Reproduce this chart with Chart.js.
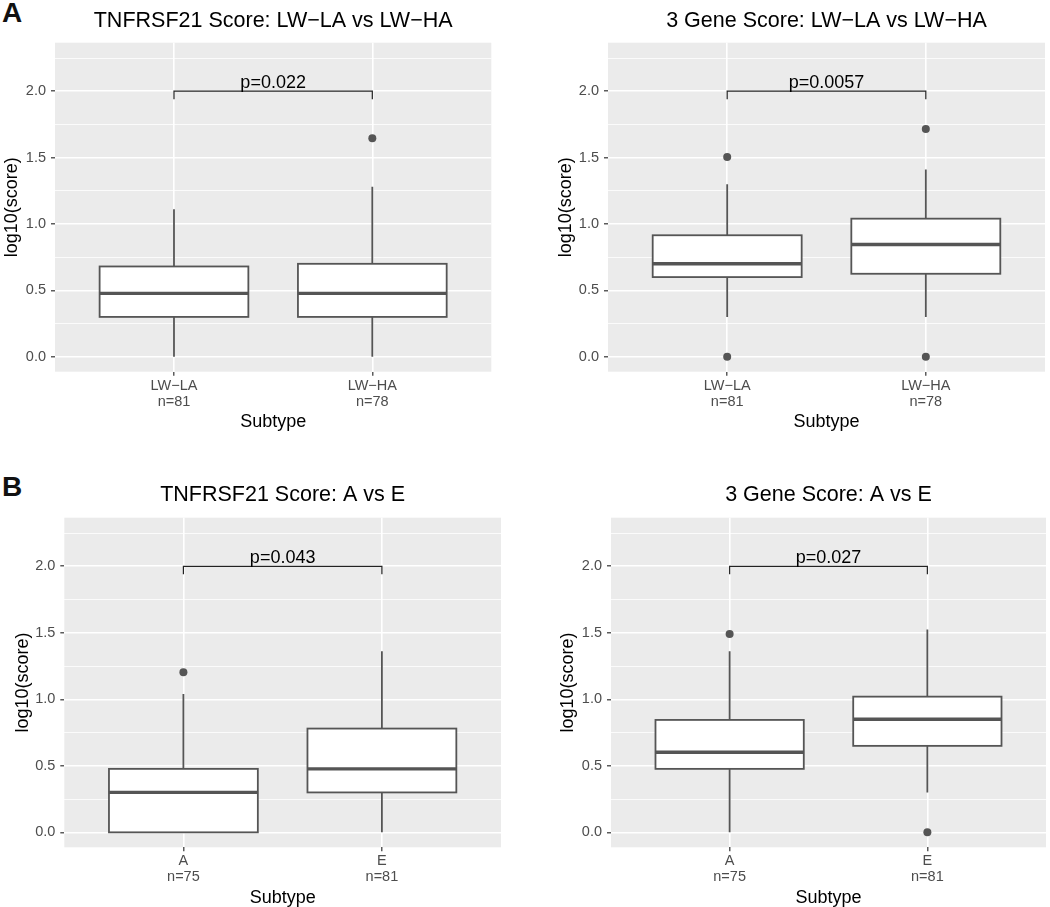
<!DOCTYPE html>
<html>
<head>
<meta charset="utf-8">
<script src="https://cdn.jsdelivr.net/npm/chart.js@4.4.1/dist/chart.umd.min.js"></script>
<style>
  html, body { margin: 0; padding: 0; background: #ffffff; width: 1050px; height: 907px; overflow: hidden; }
  canvas { position: absolute; }
  .tag { position: absolute; font-family: "Liberation Sans", Arial, sans-serif; font-weight: bold; font-size: 28px; line-height: 28px; color: #111; }
</style>
</head>
<body>
<div class="tag" style="left:2px; top:-1px;">A</div>
<div class="tag" style="left:2px; top:473px;">B</div>
<canvas id="c1" width="525" height="440" style="left:0px; top:0px;"></canvas>
<canvas id="c2" width="525" height="440" style="left:525px; top:0px;"></canvas>
<canvas id="c3" width="525" height="437" style="left:0px; top:470px;"></canvas>
<canvas id="c4" width="525" height="437" style="left:525px; top:470px;"></canvas>
<script>
// ---------------- DATA ----------------
// Categories and group sizes
const lwCategories = ['LW\u2212LA', 'LW\u2212HA'];
const lwCounts     = ['n=81', 'n=78'];
const aeCategories = ['A', 'E'];
const aeCounts     = ['n=75', 'n=81'];

// Box statistics per group: [lower whisker, Q1, median, Q3, upper whisker]  (log10(score))
const tnfLwBoxes  = [[0.00, 0.30, 0.477, 0.68, 1.11], [0.00, 0.30, 0.477, 0.70, 1.28]];
const geneLwBoxes = [[0.30, 0.60, 0.70, 0.915, 1.30], [0.30, 0.625, 0.845, 1.04, 1.41]];
const tnfAeBoxes  = [[0.00, 0.00, 0.30, 0.477, 1.04], [0.00, 0.30, 0.477, 0.78, 1.362]];
const geneAeBoxes = [[0.00, 0.477, 0.602, 0.845, 1.362], [0.30, 0.65, 0.85, 1.02, 1.525]];

// Outliers per group
const tnfLwOutliers  = [[], [1.645]];
const geneLwOutliers = [[1.505, 0.00], [1.715, 0.00]];
const tnfAeOutliers  = [[1.204], []];
const geneAeOutliers = [[1.491], [0.00]];

// Significance annotations
const pLabels = ['p=0.022', 'p=0.0057', 'p=0.043', 'p=0.027'];
const bracketLevel = [2.0, 2.0, 2.0, 2.0];
const bracketTip   = [1.94, 1.94, 1.94, 1.94];

// Titles
const panelTitles = [
  'TNFRSF21 Score: LW\u2212LA vs LW\u2212HA',
  '3 Gene Score: LW\u2212LA vs LW\u2212HA',
  'TNFRSF21 Score: A vs E',
  '3 Gene Score: A vs E'
];
const yTitle = 'log10(score)';
const xTitle = 'Subtype';

// ---------------- STYLE / LAYOUT ----------------
const FONT = '"Liberation Sans", Arial, sans-serif';
Chart.defaults.font.family = FONT;
const BOX_COLOR = '#555555';
const PANEL_BG = '#EBEBEB';
const BOX_HALF = 0.375;
const Y_MIN = -0.1126, Y_MAX = 2.3653;

const layouts = [
  {id: 'c1', yW: 55,   padR: 33.7, tTop: 8,    tBot: 8.9, yTP: 3.5,  xH: 68.3, xTP: 9.3},
  {id: 'c2', yW: 83,   padR: 5,    tTop: 8,    tBot: 8.9, yTP: 31.8, xH: 68.3, xTP: 9.3},
  {id: 'c3', yW: 64.3, padR: 24,   tTop: 12.6, tBot: 9.3, yTP: 14.3, xH: 59.7, xTP: 0.3},
  {id: 'c4', yW: 86,   padR: 3,    tTop: 12.6, tBot: 9.3, yTP: 34.3, xH: 59.7, xTP: 0.3}
];

const isMajor = v => Math.abs(v * 2 - Math.round(v * 2)) < 1e-6;

const bgPlugin = {
  id: 'panelBg',
  beforeDraw(chart) {
    const {ctx, chartArea: a} = chart;
    ctx.save();
    ctx.fillStyle = PANEL_BG;
    ctx.fillRect(a.left, a.top, a.right - a.left, a.bottom - a.top);
    ctx.restore();
  }
};

const boxPlugin = {
  id: 'boxes',
  beforeDatasetsDraw(chart, args, opts) {
    const {ctx} = chart;
    const xs = chart.scales.x, ys = chart.scales.y;
    const boxes = opts.boxes;
    ctx.save();
    ctx.strokeStyle = BOX_COLOR;
    boxes.forEach((b, i) => {
      const xc = xs.getPixelForValue(i + 1);
      const xl = xs.getPixelForValue(i + 1 - BOX_HALF);
      const xr = xs.getPixelForValue(i + 1 + BOX_HALF);
      const [lo, q1, med, q3, hi] = b.map(v => ys.getPixelForValue(v));
      ctx.lineWidth = 1.8;
      ctx.lineCap = 'butt';
      ctx.beginPath();
      ctx.moveTo(xc, lo); ctx.lineTo(xc, q1);
      ctx.moveTo(xc, q3); ctx.lineTo(xc, hi);
      ctx.stroke();
      ctx.fillStyle = '#ffffff';
      ctx.fillRect(xl, q3, xr - xl, q1 - q3);
      ctx.strokeRect(xl, q3, xr - xl, q1 - q3);
      ctx.lineWidth = 3.4;
      ctx.beginPath();
      ctx.moveTo(xl, med); ctx.lineTo(xr, med);
      ctx.stroke();
    });
    ctx.restore();
  },
  afterDatasetsDraw(chart, args, opts) {
    const {ctx} = chart;
    const xs = chart.scales.x, ys = chart.scales.y;
    const x1 = xs.getPixelForValue(1), x2 = xs.getPixelForValue(2);
    const yl = ys.getPixelForValue(opts.level), yt = ys.getPixelForValue(opts.tip);
    ctx.save();
    ctx.strokeStyle = '#222222';
    ctx.lineWidth = 1.2;
    ctx.beginPath();
    ctx.moveTo(x1, yt); ctx.lineTo(x1, yl); ctx.lineTo(x2, yl); ctx.lineTo(x2, yt);
    ctx.stroke();
    ctx.fillStyle = '#000000';
    ctx.font = '18px ' + FONT;
    ctx.textAlign = 'center';
    ctx.textBaseline = 'alphabetic';
    ctx.fillText(opts.label, (x1 + x2) / 2, yl - 3);
    ctx.restore();
  }
};

function makePanel(k, categories, counts, boxes, outliers) {
  const L = layouts[k];
  const pts = [];
  outliers.forEach((arr, i) => arr.forEach(v => pts.push({x: i + 1, y: v})));
  new Chart(document.getElementById(L.id), {
    type: 'scatter',
    data: {
      datasets: [{
        data: pts,
        pointRadius: 4,
        pointHoverRadius: 4,
        pointBackgroundColor: BOX_COLOR,
        pointBorderColor: BOX_COLOR,
        pointBorderWidth: 0
      }]
    },
    options: {
      responsive: false,
      animation: false,
      events: [],
      layout: {padding: {left: 0, right: L.padR, top: 0, bottom: 0}},
      plugins: {
        legend: {display: false},
        tooltip: {enabled: false},
        title: {
          display: true,
          text: panelTitles[k],
          fullSize: false,
          color: '#000000',
          font: {size: 21.5, weight: 'normal', family: FONT},
          padding: {top: L.tTop, bottom: L.tBot}
        },
        boxes: {boxes: boxes, level: bracketLevel[k], tip: bracketTip[k], label: pLabels[k]}
      },
      scales: {
        x: {
          type: 'linear',
          min: 0.4, max: 2.6,
          afterBuildTicks: s => { s.ticks = [{value: 1}, {value: 2}]; },
          afterFit: s => { s.height = L.xH; s.paddingLeft = 0; s.paddingRight = 0; },
          border: {display: false},
          grid: {color: '#ffffff', lineWidth: 1.6, drawTicks: true, tickLength: 4, tickColor: '#333333', tickWidth: 1.2},
          ticks: {
            autoSkip: false, maxRotation: 0, padding: 2,
            color: '#4D4D4D', font: {size: 14.5, lineHeight: 1.1},
            callback: v => [categories[Math.round(v) - 1], counts[Math.round(v) - 1]]
          },
          title: {display: true, text: xTitle, color: '#000000', font: {size: 18, lineHeight: 1}, padding: {top: 0, bottom: L.xTP}}
        },
        y: {
          type: 'linear',
          min: Y_MIN, max: Y_MAX,
          afterFit: s => { s.width = L.yW; s.paddingTop = 0; s.paddingBottom = 0; },
          border: {display: false},
          grid: {
            color: '#ffffff',
            lineWidth: c => isMajor(c.tick.value) ? 1.6 : 0.8,
            drawTicks: true, tickLength: 4, tickWidth: 1.2,
            tickColor: c => isMajor(c.tick.value) ? '#333333' : 'rgba(0,0,0,0)'
          },
          ticks: {
            stepSize: 0.25, includeBounds: false, padding: 5, autoSkip: false,
            color: '#4D4D4D', font: {size: 14.5},
            callback: v => isMajor(v) ? Number(v).toFixed(1) : ''
          },
          title: {display: true, text: yTitle, color: '#000000', font: {size: 18, lineHeight: 1}, padding: {top: L.yTP, bottom: 0}}
        }
      }
    },
    plugins: [bgPlugin, boxPlugin]
  });
}

makePanel(0, lwCategories, lwCounts, tnfLwBoxes, tnfLwOutliers);
makePanel(1, lwCategories, lwCounts, geneLwBoxes, geneLwOutliers);
makePanel(2, aeCategories, aeCounts, tnfAeBoxes, tnfAeOutliers);
makePanel(3, aeCategories, aeCounts, geneAeBoxes, geneAeOutliers);
</script>
</body>
</html>
